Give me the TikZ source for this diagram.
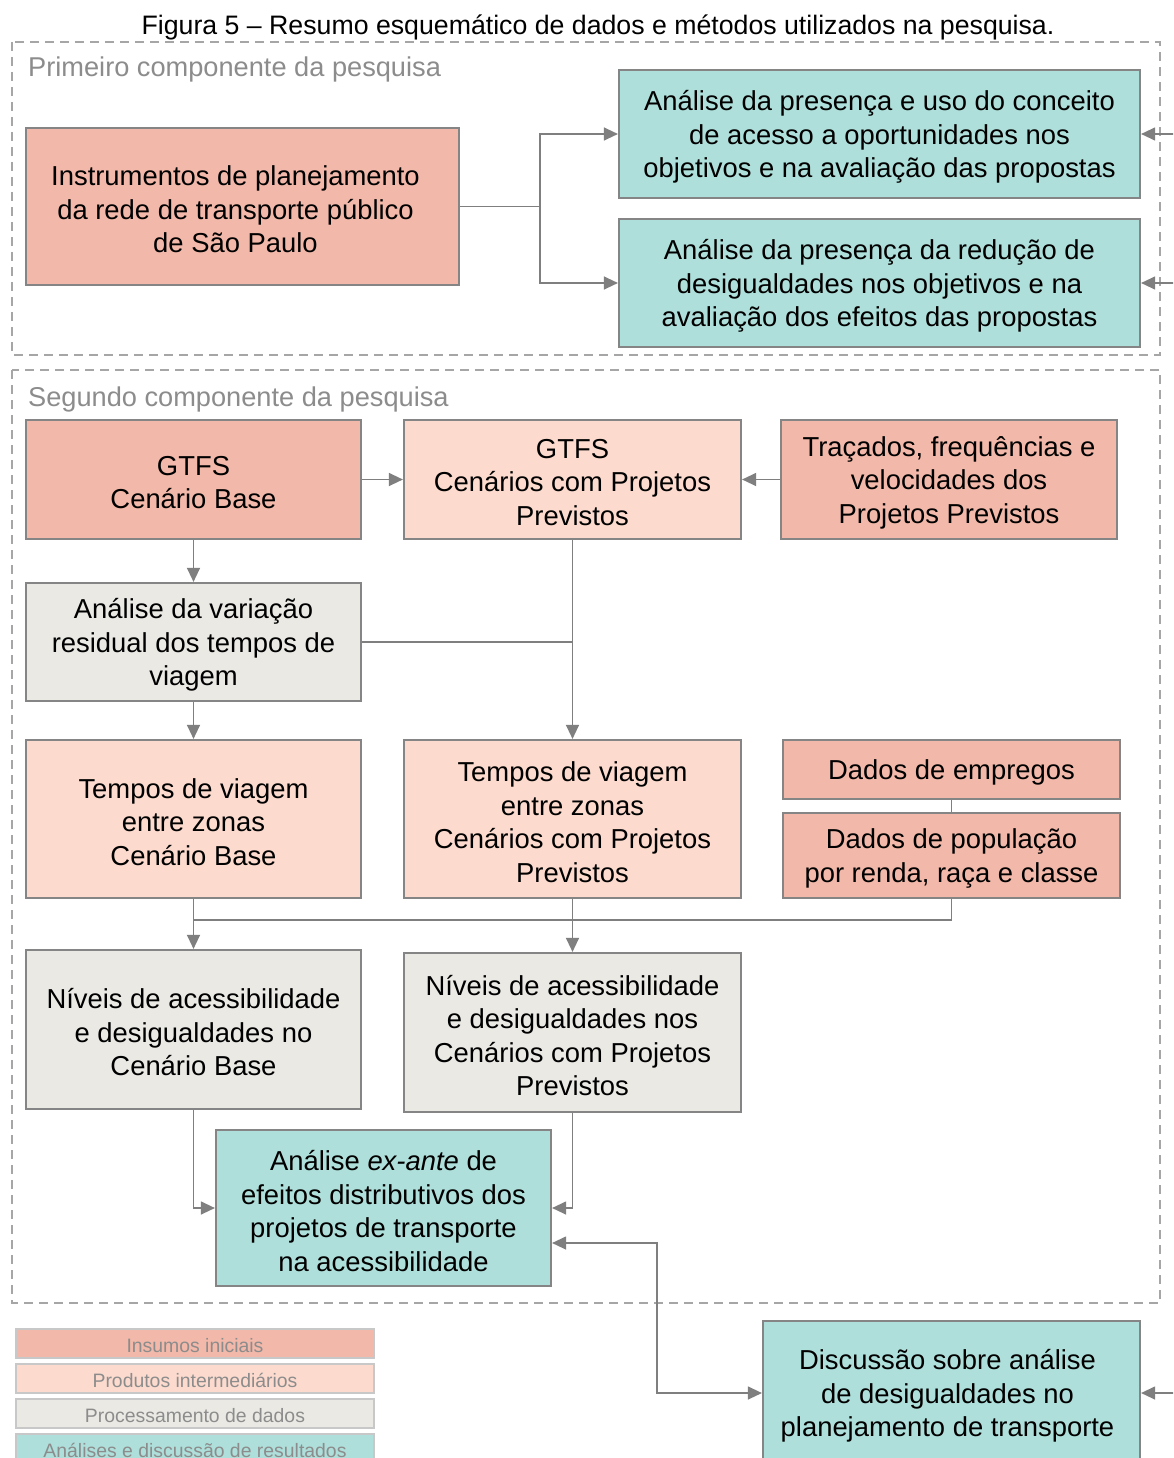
\documentclass[tikz,border=0pt]{standalone}
\usepackage{fontspec}
\setmainfont{Liberation Sans}
\usetikzlibrary{arrows.meta,calc}
\definecolor{insumo}{HTML}{F2B8A9}
\definecolor{produto}{HTML}{FCDBCE}
\definecolor{process}{HTML}{EAE9E4}
\definecolor{analise}{HTML}{AEDFDA}
\definecolor{bordergray}{HTML}{858585}
\definecolor{linegray}{HTML}{7F7F7F}
\definecolor{dashgray}{HTML}{A6A6A6}
\definecolor{labelgray}{HTML}{8C8C8C}
\definecolor{legendborder}{HTML}{C8C8C8}
\tikzset{
  box/.style={draw=bordergray, line width=2.2pt, inner sep=0pt},
  boxtext/.style={inner sep=0pt, align=center, font=\fontsize{27.4}{33.5}\selectfont, yshift=-3pt},
  ins/.style={box, fill=insumo},
  prod/.style={box, fill=produto},
  proc/.style={box, fill=process},
  anl/.style={box, fill=analise},
  conn/.style={draw=linegray, line width=1.3pt},
  arr/.style={conn, -{Triangle[length=14pt,width=13pt]}},
  dbl/.style={conn, {Triangle[length=14pt,width=13pt]}-{Triangle[length=14pt,width=13pt]}},
  region/.style={draw=dashgray, line width=2pt, dash pattern=on 9pt off 6pt},
  regionlabel/.style={text=labelgray, anchor=west, inner sep=0pt, font=\fontsize{27.2}{33}\selectfont},
  legend/.style={draw=legendborder, line width=1.2pt, inner sep=0pt},
  legendtext/.style={text=labelgray, inner sep=0pt, font=\fontsize{19.4}{22}\selectfont, yshift=-2pt},
}
% \placebox[text x-shift]{style}{name}{x1}{y1}{x2}{y2}{text}
\newcommand\placebox[8][0]{%
  \pgfmathsetmacro\pbcx{(#4+#6)/2}%
  \pgfmathsetmacro\pbcy{(#5+#7)/2}%
  \pgfmathsetmacro\pbww{#6-#4}%
  \pgfmathsetmacro\pbhh{#7-#5}%
  \node[#2, minimum width=\pbww pt, minimum height=\pbhh pt,
        label={[boxtext, xshift=#1pt]center:{#8}}] (#3) at (\pbcx,\pbcy) {};}
\newcommand\placelegend[7]{%
  \pgfmathsetmacro\pbcx{(#3+#5)/2}%
  \pgfmathsetmacro\pbcy{(#4+#6)/2}%
  \pgfmathsetmacro\pbww{#5-#3}%
  \pgfmathsetmacro\pbhh{#6-#4}%
  \node[legend, fill=#1, minimum width=\pbww pt, minimum height=\pbhh pt,
        label={[legendtext]center:{#7}}] (#2) at (\pbcx,\pbcy) {};}
\begin{document}
\begin{tikzpicture}[x=1pt,y=-1pt]
\clip (0,0) rectangle (1173,1458);
\fill[white] (0,0) rectangle (1173,1458);

% caption
\node[inner sep=0pt, font=\fontsize{26.7}{30}\selectfont] (caption) at (598,27) {Figura 5 – Resumo esquemático de dados e métodos utilizados na pesquisa.};

% regions
\draw[region] (12,42) rectangle (1160,355);
\draw[region] (12,370) rectangle (1160,1303);
\node[regionlabel] (lab1) at (28,69) {Primeiro componente da pesquisa};
\node[regionlabel] (lab2) at (28,399) {Segundo componente da pesquisa};

% first component
\placebox[-7]{ins}{instr}{26}{128}{459}{285}{Instrumentos de planejamento\\da rede de transporte público\\de São Paulo}
\placebox{anl}{a1}{619}{70}{1140}{198}{Análise da presença e uso do conceito\\de acesso a oportunidades nos\\objetivos e na avaliação das propostas}
\placebox{anl}{a2}{619}{219}{1140}{347}{Análise da presença da redução de\\desigualdades nos objetivos e na\\avaliação dos efeitos das propostas}

% second component
\placebox{ins}{gtfsb}{26}{420}{361}{539}{GTFS\\Cenário Base}
\placebox{prod}{gtfsc}{404}{420}{741}{539}{GTFS\\Cenários com Projetos\\Previstos}
\placebox{ins}{trac}{781}{420}{1117}{539}{Traçados, frequências e\\velocidades dos\\Projetos Previstos}
\placebox{proc}{var}{26}{583}{361}{701}{Análise da variação\\residual dos tempos de\\viagem}
\placebox{prod}{tbase}{26}{740}{361}{898}{Tempos de viagem\\entre zonas\\Cenário Base}
\placebox{prod}{tcen}{404}{740}{741}{898}{Tempos de viagem\\entre zonas\\Cenários com Projetos\\Previstos}
\placebox{ins}{emp}{783}{740}{1120}{799}{Dados de empregos}
\placebox{ins}{pop}{783}{813}{1120}{898}{Dados de população\\por renda, raça e classe}
\placebox{proc}{nbase}{26}{950}{361}{1109}{Níveis de acessibilidade\\e desigualdades no\\Cenário Base}
\placebox{proc}{ncen}{404}{953}{741}{1112}{Níveis de acessibilidade\\e desigualdades nos\\Cenários com Projetos\\Previstos}
\placebox{anl}{exante}{216}{1130}{551}{1286}{Análise \textit{ex-ante} de\\efeitos distributivos dos\\projetos de transporte\\na acessibilidade}
\placebox[-4]{anl}{disc}{763}{1321}{1140}{1465}{Discussão sobre análise\\de desigualdades no\\planejamento de transporte}

% legend
\placelegend{insumo}{leg1}{16}{1329}{374}{1358}{Insumos iniciais}
\placelegend{produto}{leg2}{16}{1364}{374}{1393}{Produtos intermediários}
\placelegend{process}{leg3}{16}{1399}{374}{1428}{Processamento de dados}
\placelegend{analise}{leg4}{16}{1434}{374}{1463}{Análises e discussão de resultados}

% connectors, first component
\coordinate (split1) at (540,206.5);
\draw[conn] (instr.east) -- (split1);
\draw[arr] (split1) |- (a1.west);
\draw[arr] (split1) |- (a2.west);
\coordinate (r1) at (1185,134);
\coordinate (r2) at (1185,283);
\coordinate (r3) at (1185,1393);
\draw[arr] (r1) -- (a1.east);
\draw[arr] (r2) -- (a2.east);
\draw[arr] (r3) -- (disc.west -| disc.east);

% connectors, second component
\draw[arr] (gtfsb.east) -- (gtfsc.west);
\draw[arr] (trac.west) -- (gtfsc.east);
\draw[arr] (gtfsb.south) -- (var.north);
\coordinate (j1) at (gtfsc.south |- var.east);
\draw[conn] (gtfsc.south) -- (j1);
\draw[arr] (var.east) -- (j1) -- (tcen.north);
\draw[arr] (var.south) -- (tbase.north);
\draw[conn] (emp.south) -- (pop.north);
\path (tbase.south) ++(0,21) coordinate (j2);
\draw[conn] (pop.south) |- (j2);
\draw[arr] (tbase.south) -- (nbase.north);
\draw[arr] (tcen.south) -- (ncen.north);
\draw[arr] (nbase.south) |- (exante.west);
\draw[arr] (ncen.south) |- (exante.east);
\coordinate (e2) at ($(exante.east)+(0,35)$);
\draw[dbl] (e2) -| ($(disc.west)+(-105,0)$) -- (disc.west);
\end{tikzpicture}
\end{document}
